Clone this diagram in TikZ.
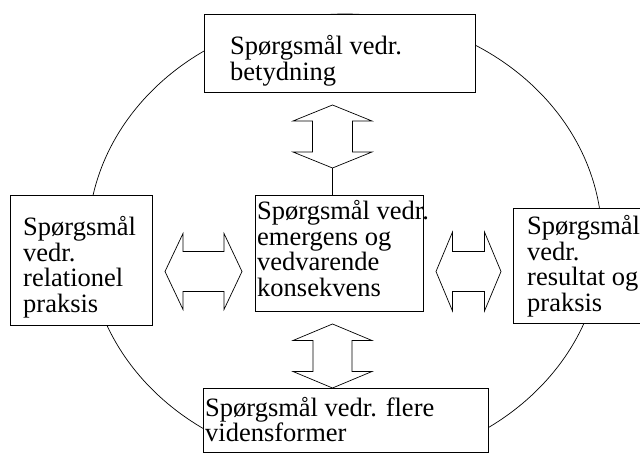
\documentclass[tikz,border=0pt]{standalone}
\usepackage{fontspec}
\setmainfont{Liberation Serif}
% left-aligned lines stacked on the baseline of the first one
\newcommand\boxlines[1]{\vtop{\lineskiplimit=-20pt\halign{##\hfil\cr#1\crcr}}}
% vertical double arrow: centre x, centre y, half length, head offset, half head width, half shaft width
\newcommand\vdbl[6]{%
  \draw[dbl] (#1,#2-#3) -- (#1+#5,#2-#4) -- (#1+#6,#2-#4) -- (#1+#6,#2+#4)
    -- (#1+#5,#2+#4) -- (#1,#2+#3) -- (#1-#5,#2+#4) -- (#1-#6,#2+#4)
    -- (#1-#6,#2-#4) -- (#1-#5,#2-#4) -- cycle;}
% horizontal double arrow, same parameters
\newcommand\hdbl[6]{%
  \draw[dbl] (#1-#3,#2) -- (#1-#4,#2-#5) -- (#1-#4,#2-#6) -- (#1+#4,#2-#6)
    -- (#1+#4,#2-#5) -- (#1+#3,#2) -- (#1+#4,#2+#5) -- (#1+#4,#2+#6)
    -- (#1-#4,#2+#6) -- (#1-#4,#2+#5) -- cycle;}
\begin{document}
\begin{tikzpicture}[x=1pt,y=-1pt,
  qbox/.style={draw, line width=0.75pt, fill=white, rectangle, inner sep=0pt, anchor=north west},
  qtext/.style={anchor=base west, inner sep=0pt, font=\fontsize{26.5pt}{25.5pt}\selectfont},
  ring/.style={line width=0.7pt},
  dbl/.style={draw, line width=0.7pt, fill=white, line join=miter}]

\useasboundingbox (0,0) rectangle (640,454);
\clip (0,0) rectangle (640,454);

% the surrounding ring, its lowest part stays inside the bottom box
\begin{scope}
  \clip (0,0) rectangle (640,451);
  \draw[ring] (345,240) ellipse [x radius=257, y radius=226];
\end{scope}

% question boxes
\node[qbox, minimum width=271pt, minimum height=78pt]  (top)    at (204,14)  {};
\node[qbox, minimum width=142pt, minimum height=130pt] (left)   at (10,195)  {};
\node[qbox, minimum width=168pt, minimum height=116pt] (mid)    at (255,195) {};
\node[qbox, minimum width=180pt, minimum height=115pt] (right)  at (513,208) {};
\node[qbox, minimum width=285pt, minimum height=64pt]  (bottom) at (203,388) {};

% double arrows between the centre box and the others
\vdbl{332.5}{136.5}{31.5}{15.5}{39.5}{20}
\vdbl{332.5}{356}{32}{15.5}{39.5}{19.5}
\hdbl{203.5}{271.5}{38.5}{20.5}{38}{20}
\hdbl{468.5}{271.5}{32.5}{16}{39.5}{20}

% stem from the upper arrow to the centre box
\coordinate (uptip) at (332.5,168);
\draw[ring] (uptip) -- (uptip |- mid.north);

% box texts
\node[qtext] (toptext)    at (230,55)  {\boxlines{Spørgsmål vedr.\cr betydning}};
\node[qtext] (lefttext)   at (23,236)  {\boxlines{Spørgsmål\cr vedr.\cr relationel\cr praksis}};
\node[qtext] (midtext)    at (257,220) {\boxlines{Spørgsmål vedr.\cr emergens og\cr vedvarende\cr konsekvens}};
\node[qtext] (righttext)  at (527,235) {\boxlines{Spørgsmål\cr vedr.\cr resultat og\cr praksis}};
\node[qtext] (bottomtext) at (205,416) {\boxlines{Spørgsmål vedr. flere\cr vidensformer}};
\end{tikzpicture}
\end{document}
